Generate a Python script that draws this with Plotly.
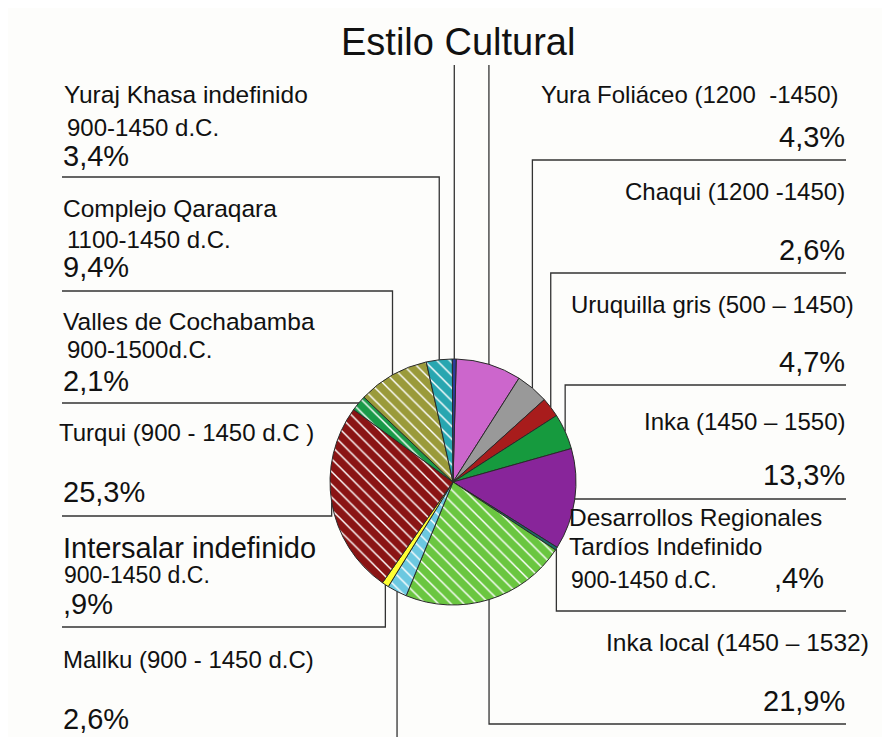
import math
import plotly.graph_objects as go

# the page body has an 8px margin: design in window pixels and shift by it
OFF = 8
W, H = 890 - OFF, 737 - OFF

# ---------------- data (clockwise from 12 o'clock) ----------------
slice_names = [
    "Sin rótulo (rosa)", "Yura Foliáceo", "Chaqui", "Uruquilla gris", "Inka",
    "Desarrollos Regionales Tardíos Indefinido", "Inka local", "Mallku",
    "Intersalar indefinido", "Turqui", "Valles de Cochabamba",
    "Complejo Qaraqara", "Yuraj Khasa indefinido", "Sin rótulo (azul)",
]
slice_values = [8.6, 4.3, 2.6, 4.7, 13.3, 0.4, 21.9, 2.6, 0.9, 25.3, 2.1, 9.4, 3.4, 0.5]

label_text = {
    "Yura Foliáceo": ["Yura Foliáceo (1200\u00a0\u00a0-1450)"],
    "Chaqui": ["Chaqui (1200 -1450)"],
    "Uruquilla gris": ["Uruquilla gris (500 – 1450)"],
    "Inka": ["Inka (1450 – 1550)"],
    "Desarrollos Regionales Tardíos Indefinido": ["Desarrollos Regionales", "Tardíos Indefinido", "900-1450 d.C."],
    "Inka local": ["Inka local (1450 – 1532)"],
    "Mallku": ["Mallku (900 - 1450 d.C)"],
    "Intersalar indefinido": ["Intersalar indefinido", "900-1450 d.C."],
    "Turqui": ["Turqui (900 - 1450 d.C )"],
    "Valles de Cochabamba": ["Valles de Cochabamba", "900-1500d.C."],
    "Complejo Qaraqara": ["Complejo Qaraqara", "1100-1450 d.C."],
    "Yuraj Khasa indefinido": ["Yuraj Khasa indefinido", "900-1450 d.C."],
}
title_text = "Estilo Cultural"

# ---------------- styles ----------------
slice_colors = [
    "#cc66cc", "#999999", "#a81c1c", "#169a3e", "#88259a", "#1b6a66", "#6ac640",
    "#6cc8e0", "#ffff33", "#8a1414", "#1a9a48", "#9a9a3a", "#28a6b0", "#2a3c9c",
]
slice_patterns = ["", "", "", "", "", "", "\\", "\\", "", "\\", "\\", "\\", "\\", ""]

# pie geometry in window pixels
CX, CY, R = 453, 482, 123
ROTATION = 1.5
FONT = "Liberation Sans, Arial, sans-serif"

# label layout: text lines (x, baseline, size, anchor), pct (x, baseline, size, anchor),
# underline y and far end x (window pixels)
label_layout = {
    "Yuraj Khasa indefinido": dict(lines=[(63, 103, 24.5, "left"), (66, 136, 24, "left")],
                                   pct=(62, 166, 29, "left"), uy=177, far=62),
    "Complejo Qaraqara": dict(lines=[(62, 217, 24.5, "left"), (66, 248, 24, "left")],
                              pct=(62, 277, 29, "left"), uy=291, far=62),
    "Valles de Cochabamba": dict(lines=[(62, 330, 24.5, "left"), (66, 358, 24, "left")],
                                 pct=(62, 391, 29, "left"), uy=403, far=62),
    "Turqui": dict(lines=[(58, 441, 24, "left")], pct=(62, 502, 29, "left"), uy=516, far=62),
    "Intersalar indefinido": dict(lines=[(62, 558, 29, "left"), (63, 583, 23, "left")],
                                  pct=(62, 614, 29, "left"), uy=627, far=62),
    "Mallku": dict(lines=[(62, 668, 24, "left")], pct=(62, 729, 29, "left"), uy=760, far=62),
    "Yura Foliáceo": dict(lines=[(840, 103, 24, "right")], pct=(846, 147, 29, "right"), uy=160, far=846),
    "Chaqui": dict(lines=[(846, 200, 24, "right")], pct=(846, 260, 29, "right"), uy=273, far=846),
    "Uruquilla gris": dict(lines=[(855, 313, 24, "right")], pct=(846, 372, 29, "right"), uy=385, far=846),
    "Inka": dict(lines=[(846, 430, 24, "right")], pct=(846, 485, 29, "right"), uy=499, far=846),
    "Desarrollos Regionales Tardíos Indefinido": dict(
        lines=[(568, 526, 24.5, "left"), (568, 555, 24.5, "left"), (570, 588, 23, "left")],
        pct=(773, 588, 29, "left"), uy=611, far=846),
    "Inka local": dict(lines=[(870, 651, 24.5, "right")], pct=(846, 711, 29, "right"), uy=724, far=846),
    "Sin rótulo (rosa)": dict(lines=[], pct=None, uy=65, far=None),
    "Sin rótulo (azul)": dict(lines=[], pct=None, uy=65, far=None),
}


def px(x):
    return (x - OFF) / W


def py(y):
    return 1 - (y - OFF) / H


def fmt_pct(v):
    s = f"{v:.1f}".replace(".", ",")
    if s.startswith("0"):
        s = s[1:]
    return s + "%"


fig = go.Figure()
fig.add_trace(go.Pie(
    labels=slice_names, values=slice_values, sort=False, direction="clockwise",
    rotation=ROTATION, textinfo="none", hoverinfo="label+percent",
    marker=dict(colors=slice_colors, line=dict(color="#2a2a2a", width=1),
                pattern=dict(shape=slice_patterns, fgcolor="#ffffff", bgcolor=slice_colors,
                             fillmode="replace", size=9, solidity=0.16)),
    domain=dict(x=[px(CX - R), px(CX + R)], y=[py(CY + R), py(CY - R)]),
    showlegend=False,
))

annotations = []
shapes = []


def add_text(text, x, base, size, anchor):
    annotations.append(dict(
        text=text, x=px(x), y=py(base + 0.212 * size + 1), xref="paper", yref="paper",
        xanchor=anchor, yanchor="bottom", showarrow=False,
        font=dict(family=FONT, size=size, color="#111111"), borderpad=0,
    ))


total = sum(slice_values)
cum = 0.0
for name, val in zip(slice_names, slice_values):
    mid = ROTATION + (cum + val / 2) / total * 360
    cum += val
    a = math.radians(mid)
    x0 = CX + R * math.sin(a)
    y0 = CY - R * math.cos(a)
    lay = label_layout[name]
    uy = lay["uy"]
    path = f"M {px(x0)},{py(y0)} L {px(x0)},{py(uy)}"
    if lay["far"] is not None:
        path += f" L {px(lay['far'])},{py(uy)}"
    shapes.append(dict(type="path", path=path, xref="paper", yref="paper",
                       line=dict(color="#333333", width=1.3)))
    for txt, (x, b, s, anc) in zip(label_text.get(name, []), lay["lines"]):
        add_text(txt, x, b, s, anc)
    if lay["pct"] is not None:
        x, b, s, anc = lay["pct"]
        add_text(fmt_pct(val), x, b, s, anc)

add_text(title_text, 458, 55, 38, "center")

fig.update_layout(
    width=W, height=H, margin=dict(l=0, r=0, t=0, b=0),
    paper_bgcolor="#fdfdfb", plot_bgcolor="#fdfdfb",
    annotations=annotations, shapes=shapes,
)

fig.write_html("out.html")
